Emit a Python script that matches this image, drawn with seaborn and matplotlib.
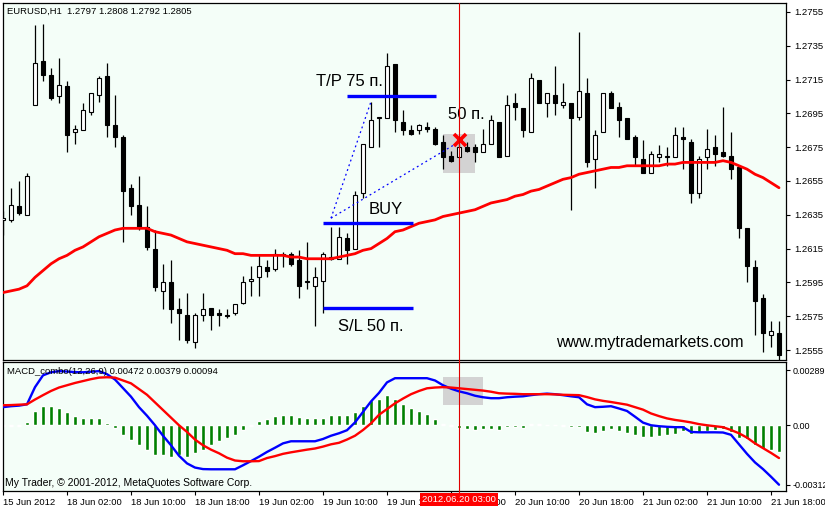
import numpy as np
import pandas as pd
import matplotlib
matplotlib.use("Agg")
import matplotlib.pyplot as plt
import matplotlib.transforms as mtransforms
from matplotlib.lines import Line2D
from matplotlib.patches import Rectangle
import seaborn as sns

sns.set_theme(style="white")
plt.rcParams['font.family'] = ['Liberation Sans', 'DejaVu Sans']

# ---------------- data (EURUSD H1) ----------------
open_ = [1.2632,1.2632,1.2640,1.2635,1.2700,1.2726,1.2718,1.2705,1.2711,1.2684,
         1.2685,1.2696,1.2706,1.2717,1.2688,1.2681,1.2651,1.2641,1.2628,1.2615,
         1.2590,1.2595,1.2579,1.2576,1.2560,1.2576,1.2580,1.2577,1.2576,1.2577,
         1.2583,1.2596,1.2598,1.2604,1.2603,1.2611,1.2612,1.2608,1.2595,1.2593,
         1.2596,1.2609,1.2609,1.2621,1.2615,1.2648,1.2675,1.2692,1.2692,1.2724,
         1.2690,1.2685,1.2685,1.2687,1.2686,1.2678,1.2670,1.2669,1.2675,1.2675,
         1.2672,1.2677,1.2690,1.2670,1.2701,1.2698,1.2684,1.2715,1.2701,1.2706,
         1.2700,1.2701,1.2693,1.2707,1.2668,1.2684,1.2707,1.2699,1.2692,1.2681,
         1.2668,1.2660,1.2669,1.2669,1.2669,1.2681,1.2678,1.2648,1.2669,1.2675,
         1.2672,1.2670,1.2663,1.2627,1.2604,1.2586,1.2564,1.2565]
high = [1.2637,1.2651,1.2655,1.2660,1.2747,1.2748,1.2722,1.2728,1.2714,1.2688,
        1.2701,1.2707,1.2717,1.2725,1.2706,1.2682,1.2653,1.2658,1.2640,1.2626,
        1.2606,1.2608,1.2586,1.2589,1.2577,1.2589,1.2580,1.2579,1.2579,1.2582,
        1.2599,1.2605,1.2611,1.2608,1.2615,1.2613,1.2613,1.2614,1.2619,1.2604,
        1.2613,1.2628,1.2628,1.2624,1.2649,1.2677,1.2702,1.2693,1.2731,1.2724,
        1.2697,1.2688,1.2689,1.2690,1.2687,1.2682,1.2673,1.2680,1.2678,1.2677,
        1.2686,1.2694,1.2690,1.2706,1.2707,1.2698,1.2719,1.2715,1.2707,1.2723,
        1.2713,1.2701,1.2743,1.2716,1.2685,1.2707,1.2708,1.2702,1.2692,1.2682,
        1.2679,1.2673,1.2676,1.2675,1.2687,1.2687,1.2680,1.2670,1.2686,1.2682,
        1.2699,1.2684,1.2664,1.2627,1.2608,1.2588,1.2572,1.2572]
low = [1.2623,1.2631,1.2635,1.2635,1.2700,1.2714,1.2703,1.2701,1.2672,1.2677,
       1.2685,1.2694,1.2702,1.2681,1.2675,1.2619,1.2635,1.2626,1.2614,1.2590,
       1.2579,1.2571,1.2561,1.2559,1.2556,1.2572,1.2567,1.2569,1.2574,1.2576,
       1.2582,1.2587,1.2587,1.2598,1.2602,1.2604,1.2605,1.2586,1.2591,1.2569,
       1.2577,1.2608,1.2609,1.2606,1.2615,1.2645,1.2675,1.2675,1.2692,1.2684,
       1.2682,1.2682,1.2683,1.2684,1.2676,1.2662,1.2666,1.2669,1.2672,1.2666,
       1.2672,1.2677,1.2669,1.2670,1.2691,1.2681,1.2684,1.2701,1.2693,1.2694,
       1.2698,1.2638,1.2691,1.2663,1.2651,1.2684,1.2698,1.2681,1.2680,1.2664,
       1.2660,1.2660,1.2666,1.2664,1.2669,1.2662,1.2642,1.2645,1.2662,1.2664,
       1.2669,1.2656,1.2621,1.2595,1.2564,1.2554,1.2557,1.2549]
close = [1.2633,1.2641,1.2636,1.2658,1.2725,1.2718,1.2704,1.2712,1.2682,1.2686,
         1.2697,1.2707,1.2716,1.2688,1.2681,1.2649,1.2640,1.2627,1.2616,1.2592,
         1.2595,1.2579,1.2577,1.2561,1.2576,1.2579,1.2576,1.2576,1.2575,1.2582,
         1.2595,1.2597,1.2605,1.2602,1.2612,1.2612,1.2606,1.2593,1.2596,1.2598,
         1.2612,1.2610,1.2622,1.2614,1.2647,1.2677,1.2691,1.2693,1.2723,1.2691,
         1.2685,1.2683,1.2688,1.2686,1.2677,1.2669,1.2667,1.2675,1.2673,1.2672,
         1.2677,1.2691,1.2669,1.2700,1.2699,1.2685,1.2716,1.2701,1.2707,1.2701,
         1.2702,1.2692,1.2708,1.2666,1.2682,1.2707,1.2698,1.2691,1.2680,1.2669,
         1.2660,1.2671,1.2671,1.2670,1.2682,1.2680,1.2648,1.2668,1.2674,1.2671,
         1.2670,1.2662,1.2627,1.2605,1.2584,1.2565,1.2566,1.2552]
moving_avg = [1.2589,1.2590,1.2591,1.2593,1.2598,1.2602,1.2606,1.2609,1.2611,1.2614,
              1.2616,1.2619,1.2622,1.2624,1.2626,1.2627,1.2627,1.2627,1.2627,1.2625,
              1.2624,1.2623,1.2621,1.2619,1.2618,1.2617,1.2616,1.2615,1.2614,1.2612,
              1.2612,1.2611,1.2611,1.2611,1.2611,1.2611,1.2610,1.2610,1.2609,1.2609,
              1.2609,1.2609,1.2610,1.2611,1.2612,1.2614,1.2615,1.2618,1.2621,1.2625,
              1.2626,1.2628,1.2630,1.2631,1.2632,1.2634,1.2635,1.2636,1.2637,1.2638,
              1.2640,1.2642,1.2643,1.2644,1.2646,1.2647,1.2649,1.2650,1.2652,1.2654,
              1.2656,1.2657,1.2659,1.2660,1.2661,1.2662,1.2663,1.2663,1.2664,1.2664,
              1.2664,1.2664,1.2664,1.2665,1.2665,1.2666,1.2666,1.2666,1.2666,1.2666,
              1.2667,1.2666,1.2664,1.2662,1.2659,1.2657,1.2654,1.2651]
macd_main = [95e-5,100e-5,103e-5,110e-5,200e-5,262e-5,278e-5,284e-5,282e-5,279e-5,
             278e-5,281e-5,284e-5,268e-5,240e-5,195e-5,150e-5,95e-5,50e-5,0e-5,
             -55e-5,-105e-5,-160e-5,-200e-5,-222e-5,-230e-5,-231e-5,-231e-5,-231e-5,-231e-5,
             -210e-5,-188e-5,-165e-5,-140e-5,-118e-5,-95e-5,-84e-5,-84e-5,-84e-5,-84e-5,
             -72e-5,-55e-5,-42e-5,-26e-5,15e-5,70e-5,125e-5,170e-5,225e-5,247e-5,
             247e-5,247e-5,247e-5,247e-5,235e-5,210e-5,192e-5,178e-5,168e-5,155e-5,
             147e-5,142e-5,142e-5,147e-5,150e-5,152e-5,158e-5,163e-5,166e-5,163e-5,
             158e-5,152e-5,147e-5,110e-5,95e-5,97e-5,100e-5,88e-5,75e-5,45e-5,
             14e-5,0e-5,-5e-5,-8e-5,-10e-5,-10e-5,-35e-5,-37e-5,-37e-5,-37e-5,
             -38e-5,-50e-5,-100e-5,-150e-5,-195e-5,-230e-5,-270e-5,-312e-5]
macd_signal = [105e-5,106e-5,108e-5,110e-5,135e-5,158e-5,180e-5,198e-5,210e-5,222e-5,
               232e-5,242e-5,250e-5,252e-5,250e-5,235e-5,220e-5,190e-5,160e-5,120e-5,
               80e-5,40e-5,0e-5,-35e-5,-75e-5,-105e-5,-128e-5,-147e-5,-170e-5,-185e-5,
               -189e-5,-189e-5,-188e-5,-172e-5,-162e-5,-150e-5,-142e-5,-135e-5,-128e-5,-122e-5,
               -112e-5,-100e-5,-92e-5,-75e-5,-55e-5,-25e-5,10e-5,55e-5,85e-5,115e-5,
               140e-5,163e-5,180e-5,194e-5,198e-5,200e-5,198e-5,194e-5,190e-5,186e-5,
               182e-5,176e-5,168e-5,166e-5,165e-5,163e-5,163e-5,163e-5,163e-5,162e-5,
               160e-5,159e-5,158e-5,148e-5,136e-5,128e-5,122e-5,115e-5,108e-5,95e-5,
               82e-5,62e-5,48e-5,36e-5,28e-5,22e-5,15e-5,6e-5,0e-5,-5e-5,
               -10e-5,-25e-5,-42e-5,-65e-5,-95e-5,-120e-5,-145e-5,-172e-5]
macd_hist = [-5e-5,-3e-5,-2e-5,17e-5,73e-5,101e-5,101e-5,93e-5,70e-5,47e-5,
             40e-5,38e-5,38e-5,12e-5,-14e-5,-52e-5,-79e-5,-105e-5,-128e-5,-154e-5,
             -154e-5,-166e-5,-158e-5,-166e-5,-145e-5,-128e-5,-105e-5,-84e-5,-66e-5,-52e-5,
             -26e-5,-5e-5,23e-5,31e-5,47e-5,52e-5,52e-5,44e-5,38e-5,38e-5,
             38e-5,52e-5,52e-5,52e-5,70e-5,100e-5,131e-5,136e-5,158e-5,136e-5,
             110e-5,91e-5,73e-5,58e-5,35e-5,9e-5,-2e-5,-14e-5,-21e-5,-26e-5,
             -21e-5,-17e-5,-26e-5,-9e-5,-9e-5,-12e-5,5e-5,5e-5,3e-5,2e-5,
             -2e-5,-9e-5,-9e-5,-37e-5,-40e-5,-28e-5,-21e-5,-30e-5,-40e-5,-52e-5,
             -61e-5,-61e-5,-56e-5,-49e-5,-44e-5,-31e-5,-44e-5,-38e-5,-31e-5,-26e-5,
             -21e-5,-35e-5,-66e-5,-70e-5,-101e-5,-122e-5,-131e-5,-140e-5]

price_ticks = [1.2755, 1.2735, 1.2715, 1.2695, 1.2675, 1.2655, 1.2635, 1.2615, 1.2595, 1.2575, 1.2555]
macd_ticks = [0.00289, 0.0, -0.00312]
macd_tick_labels = ["0.00289", "0.00", "-0.00312"]
time_tick_bars = [0, 8, 16, 24, 32, 40, 48, 56, 64, 72, 80, 88, 96]
time_labels = ["15 Jun 2012", "18 Jun 02:00", "18 Jun 10:00", "18 Jun 18:00", "19 Jun 02:00",
               "19 Jun 10:00", "19 Jun 18:00", "20 Jun 02:00", "20 Jun 10:00", "20 Jun 18:00",
               "21 Jun 02:00", "21 Jun 10:00", "21 Jun 18:00"]

# trade annotation values
entry_price, tp_price, sl_price = 1.2630, 1.2705, 1.2580
entry_bars = (40, 51.25)
tp_bars = (43, 54.1)
signal_bar, signal_price = 41, 1.2633
tp_touch_bar, tp_touch_price = 46, 1.2702
exit_bar, exit_price = 57.1, 1.2679
cursor_bar = 57
box_bars = (55, 59)
box_prices = (1.2660, 1.2683)
macd_box_bars = (55, 60)
macd_box_vals = (0.00107, 0.00254)

df = pd.DataFrame({"bar": np.arange(len(close)), "open": open_, "high": high, "low": low,
                   "close": close, "ma": moving_avg, "macd": macd_main,
                   "signal": macd_signal, "hist": macd_hist})

# ---------------- figure ----------------
W, H = 825, 508
fig = plt.figure(figsize=(W / 100, H / 100), dpi=100, facecolor="white")

def fax(l, t, r, b):
    return [l / W, 1 - b / H, (r - l) / W, (b - t) / H]

ax = fig.add_axes(fax(3, 3, 786, 360))
ax2 = fig.add_axes(fax(3, 362, 786, 491))
bg = "#F4FEF8"
for a in (ax, ax2):
    a.set_facecolor(bg)
    for s in a.spines.values():
        s.set_color("black")
        s.set_linewidth(0.9)
    a.grid(False)

# candles
up = df["close"] >= df["open"]
ax.add_patch(Rectangle((box_bars[0], box_prices[0]), box_bars[1] - box_bars[0],
                       box_prices[1] - box_prices[0], facecolor="#D3D3D3", edgecolor="none", zorder=1))
ax.vlines(df["bar"], df["low"], df["high"], color="black", lw=0.9, zorder=3)
ax.bar(df["bar"], (df["close"] - df["open"]).abs(), bottom=np.minimum(df["open"], df["close"]),
       width=0.62, color=np.where(up, "white", "black"), edgecolor="black", linewidth=0.8, zorder=4)
sns.lineplot(data=df, x="bar", y="ma", color="#FF0000", lw=2.0, ax=ax, zorder=5)

# trade levels
ax.hlines([entry_price, sl_price], entry_bars[0], entry_bars[1], color="#0000FF", lw=2.4, zorder=6)
ax.hlines(tp_price, tp_bars[0], tp_bars[1], color="#0000FF", lw=2.4, zorder=6)
ax.plot([signal_bar, tp_touch_bar], [signal_price, tp_touch_price], color="#0000FF", lw=0.9,
        ls=(0, (1.5, 2.5)), zorder=6)
ax.plot([signal_bar, exit_bar - 0.5], [signal_price, exit_price - 0.0002], color="#0000FF", lw=0.9,
        ls=(0, (1.5, 2.5)), zorder=6)
ax.plot(exit_bar, exit_price, marker="x", ms=8, mew=2.6, color="#FF0000", zorder=8)

big = dict(fontsize=12, color="black", ha="center", va="center", zorder=9)
ax.text(43.25, 1.27136, "T/P 75 п.", **big)
ax.text(57.9, 1.26941, "50 п.", **big)
ax.text(47.9, 1.26384, "BUY", **big)
ax.text(46.0, 1.25692, "S/L 50 п.", **big)
ax.text(80.9, 1.25597, "www.mytrademarkets.com", fontsize=11.5, color="black",
        ha="center", va="center", zorder=9)

ax.set_xlim(0, 97.875)
ax.set_ylim(1.25491, 1.27603)
ax.set_xlabel("")
ax.set_ylabel("")
ax.yaxis.tick_right()
ax.set_yticks(price_ticks)
ax.set_yticklabels([f"{p:.4f}" for p in price_ticks])
ax.tick_params(axis="y", which="both", direction="out", length=3, width=0.8, pad=3,
               labelsize=6.8, left=False, right=True, colors="black")
ax.tick_params(axis="x", bottom=False, labelbottom=False)

# MACD panel
ax2.add_patch(Rectangle((macd_box_bars[0], macd_box_vals[0]), macd_box_bars[1] - macd_box_bars[0],
                        macd_box_vals[1] - macd_box_vals[0], facecolor="#D3D3D3", edgecolor="none", zorder=1))
ax2.bar(df["bar"], df["hist"], width=0.5, color="#008000", zorder=2)
sns.lineplot(data=df, x="bar", y="macd", color="#0000FF", lw=1.7, ax=ax2, zorder=4)
sns.lineplot(data=df, x="bar", y="signal", color="#FF0000", lw=1.7, ax=ax2, zorder=5)
ax2.set_xlim(0, 97.875)
ax2.set_ylim(-0.00345, 0.00332)
ax2.set_xlabel("")
ax2.set_ylabel("")
ax2.yaxis.tick_right()
ax2.set_yticks(macd_ticks)
ax2.set_yticklabels(macd_tick_labels)
ax2.tick_params(axis="y", direction="out", length=3, width=0.8, pad=2, labelsize=6.5,
                left=False, right=True, colors="black")
ax2.set_xticks(time_tick_bars)
ax2.set_xticklabels(time_labels)
ax2.tick_params(axis="x", direction="out", length=3, width=0.8, pad=2, labelsize=6.8,
                bottom=True, colors="black")
for lbl in ax2.get_xticklabels():
    lbl.set_ha("left")

# cursor line across both panels
trans = mtransforms.blended_transform_factory(ax.transData, fig.transFigure)
fig.add_artist(Line2D([cursor_bar, cursor_bar], [1 - 494 / H, 1 - 3 / H], transform=trans,
                      color="#E00000", lw=0.8, zorder=10))
fig.text(459 / W, 1 - 499.5 / H, "2012.06.20 03:00", ha="center", va="center", color="white",
         fontsize=6.8, zorder=11,
         bbox=dict(boxstyle="square,pad=0.2", facecolor="#FF0000", edgecolor="none"))

# headers
fig.text(7 / W, 1 - 11 / H, "EURUSD,H1  1.2797 1.2808 1.2792 1.2805", ha="left", va="center",
         fontsize=6.8, color="black")
fig.text(7 / W, 1 - 372 / H, "MACD_combo(12,26,9) 0.00472 0.00379 0.00094", ha="left", va="center",
         fontsize=6.8, color="black")
fig.text(5 / W, 1 - 483 / H, "My Trader, © 2001-2012, MetaQuotes Software Corp.", ha="left",
         va="center", fontsize=7.5, color="black")

fig.savefig("out.png", dpi=100, facecolor="white")
